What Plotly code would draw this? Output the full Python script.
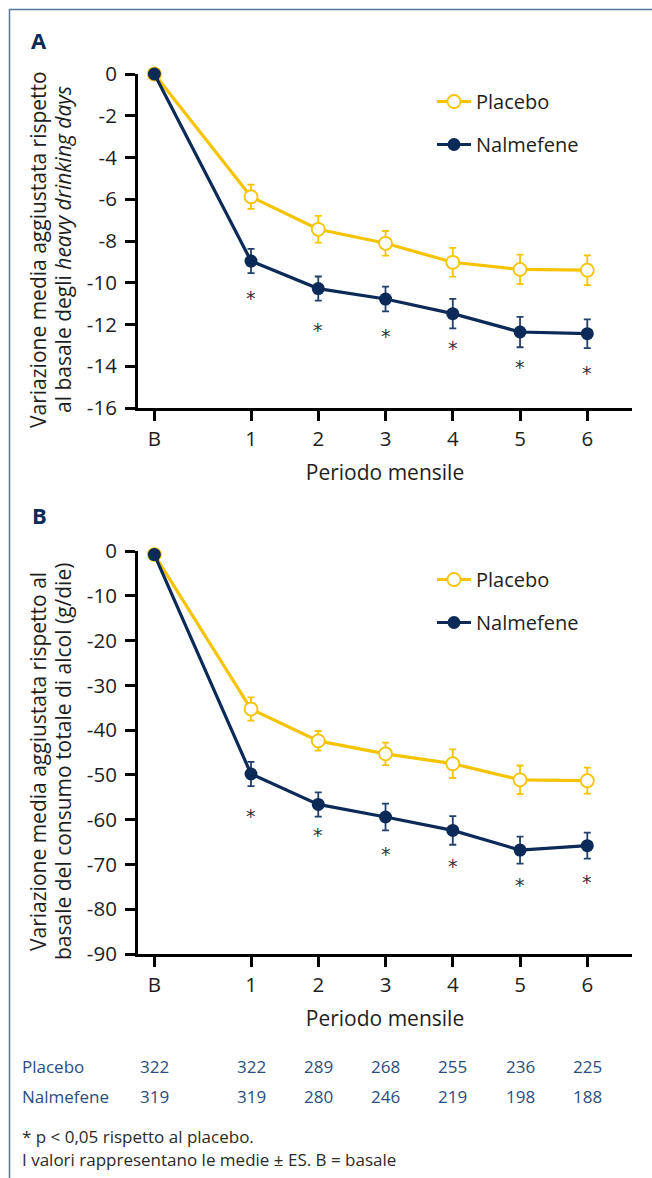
import plotly.graph_objects as go

# ---------------- data ----------------
months = ["B", "1", "2", "3", "4", "5", "6"]

# Panel A: heavy drinking days
hdd_placebo = [0, -5.88, -7.44, -8.11, -9.02, -9.36, -9.40]
hdd_placebo_se = [0, 0.58, 0.64, 0.59, 0.69, 0.71, 0.71]
hdd_nalmefene = [0, -8.96, -10.28, -10.78, -11.48, -12.36, -12.44]
hdd_nalmefene_se = [0, 0.58, 0.58, 0.59, 0.71, 0.73, 0.69]
hdd_star_y = [None, -10.6, -12.1, -12.4, -13.0, -13.9, -14.2]

# Panel B: total alcohol consumption (g/die)
tac_placebo = [-0.8, -35.3, -42.4, -45.3, -47.5, -51.1, -51.3]
tac_placebo_se = [0, 2.6, 2.2, 2.5, 3.2, 3.2, 2.9]
tac_nalmefene = [-0.8, -49.8, -56.6, -59.4, -62.4, -66.8, -65.8]
tac_nalmefene_se = [0, 2.7, 2.7, 3.0, 3.2, 3.0, 2.9]
tac_star_y = [None, -58.4, -62.7, -66.9, -69.7, -74.0, -73.2]

n_placebo = [322, 322, 289, 268, 255, 236, 225]
n_nalmefene = [319, 319, 280, 246, 219, 198, 188]

ytick_a = [0, -2, -4, -6, -8, -10, -12, -14, -16]
ytick_b = [0, -10, -20, -30, -40, -50, -60, -70, -80, -90]

# ---------------- style ----------------
W, H = 652, 1178
YEL = "#F6C300"
NAVY = "#0B2A58"
TXT = "#1e1e1e"
TABLE_BLUE = "#2c4d7f"
BORDER = "#5577a0"
FONT = "Open Sans"
BASE_X = -0.437
xpos = [BASE_X] + list(range(1, len(months)))

def py(px):  # pixel from top -> paper y
    return 1 - px / H

def px_(px):
    return px / W

fig = go.Figure()

def add_panel(xa, ya, leg, pl, pl_se, nm, nm_se):
    fig.add_trace(go.Scatter(
        x=xpos, y=pl, name="Placebo", xaxis=xa, yaxis=ya, legend=leg,
        legendgroup="p" + leg, mode="lines+markers", cliponaxis=False,
        line=dict(color=YEL, width=3.2),
        marker=dict(symbol="circle", size=13, color="white",
                    line=dict(color=YEL, width=1.8)),
        error_y=dict(type="data", array=pl_se, color=YEL, thickness=1.8, width=3.5),
    ))
    fig.add_trace(go.Scatter(
        x=xpos, y=nm, name="Nalmefene", xaxis=xa, yaxis=ya, legend=leg,
        legendgroup="n" + leg, mode="lines+markers", cliponaxis=False,
        line=dict(color=NAVY, width=3.2),
        marker=dict(symbol="circle", size=13, color=NAVY),
        error_y=dict(type="data", array=nm_se, color="#23406b", thickness=1.8, width=3.5),
    ))

add_panel("x", "y", "legend", hdd_placebo, hdd_placebo_se, hdd_nalmefene, hdd_nalmefene_se)
add_panel("x2", "y2", "legend2", tac_placebo, tac_placebo_se, tac_nalmefene, tac_nalmefene_se)

xrange = [1 + (138 - 251) / 67.26, 1 + (632 - 251) / 67.26]
xdom = [px_(138), px_(632)]

axis_common = dict(showgrid=False, zeroline=False, showline=True, linecolor="black",
                   linewidth=3, ticks="outside", ticklen=10, tickwidth=3, tickcolor="black",
                   automargin=False,
                   tickfont=dict(family=FONT, size=20.5, color=TXT))
xtitle = dict(text="Periodo mensile", font=dict(family=FONT, size=21, color=TXT))

fig.update_layout(
    width=W, height=H, margin=dict(l=0, r=0, t=0, b=0, autoexpand=False),
    paper_bgcolor="white", plot_bgcolor="white",
    font=dict(family=FONT, color=TXT),
    xaxis=dict(domain=xdom, range=xrange, anchor="y", tickvals=xpos, ticktext=months,
               title=xtitle, **axis_common),
    yaxis=dict(domain=[py(408), py(74)], range=[-16, 0], anchor="x", ticklabelstandoff=4,
               tickvals=ytick_a, ticktext=[str(v) for v in ytick_a], **axis_common),
    xaxis2=dict(domain=xdom, range=xrange, anchor="y2", tickvals=xpos, ticktext=months,
                title=xtitle, **axis_common),
    yaxis2=dict(domain=[py(954), py(551)], range=[-90, 0], anchor="x2", ticklabelstandoff=4,
                tickvals=ytick_b, ticktext=[str(v) for v in ytick_b], **axis_common),
    legend=dict(x=px_(432), y=py(82), xanchor="left", yanchor="top",
                font=dict(family=FONT, size=20, color=TXT), tracegroupgap=14, itemwidth=34,
                bgcolor="rgba(0,0,0,0)"),
    legend2=dict(x=px_(432), y=py(560), xanchor="left", yanchor="top",
                 font=dict(family=FONT, size=20, color=TXT), tracegroupgap=14, itemwidth=34,
                 bgcolor="rgba(0,0,0,0)"),
    showlegend=True,
)

def note(text, x, y, size, color, xanchor="center", xref="paper", yref="paper", angle=0, yshift=0,
         family=FONT):
    return dict(text=text, x=x, y=y, xref=xref, yref=yref, xanchor=xanchor,
                yanchor="middle", textangle=angle, showarrow=False, yshift=yshift,
                font=dict(family=family, size=size, color=color))

ann = []
ann.append(note("<b>A</b>", px_(39), py(40), 22, NAVY))
ann.append(note("<b>B</b>", px_(39), py(515), 22, NAVY))
# y-axis titles (two lines each)
ann.append(note("Variazione media aggiustata rispetto", px_(38), py(250), 21, TXT, angle=-90))
ann.append(note("al basale degli <i>heavy drinking days</i>", px_(63), py(250), 21, TXT, angle=-90))
ann.append(note("Variazione media aggiustata rispetto al", px_(38), py(762), 21, TXT, angle=-90))
ann.append(note("basale del consumo totale di alcol (g/die)", px_(63), py(762), 21, TXT, angle=-90))
# significance asterisks
for xr, yr, stars in (("x", "y", hdd_star_y), ("x2", "y2", tac_star_y)):
    for xv, s in zip(xpos, stars):
        if s is not None:
            ann.append(note("*", xv, s, 19, "#333333", xref=xr, yref=yr, yshift=-3,
                            family="DejaVu Sans"))
# table of patient numbers
for label, vals, ypix in (("Placebo", n_placebo, 1066), ("Nalmefene", n_nalmefene, 1096)):
    ann.append(note(label, px_(20), py(ypix), 17, TABLE_BLUE, xanchor="left"))
    for xv, v in zip(xpos, vals):
        ann.append(note(str(v), xv, py(ypix), 17, TABLE_BLUE, xref="x2"))
ann.append(note("* p < 0,05 rispetto al placebo.", px_(20), py(1136), 17, "#2a2a2a", xanchor="left"))
ann.append(note("I valori rappresentano le medie ± ES. B = basale", px_(20), py(1159), 17, "#2a2a2a",
                xanchor="left"))
fig.update_layout(annotations=ann)

# frame lines (top and left)
fig.add_shape(type="line", xref="paper", yref="paper", x0=px_(9), x1=1, y0=py(9.5), y1=py(9.5),
              line=dict(color=BORDER, width=1.5))
fig.add_shape(type="line", xref="paper", yref="paper", x0=px_(9.5), x1=px_(9.5), y0=py(9), y1=0,
              line=dict(color=BORDER, width=1.5))

fig.write_html("out.html", post_script="document.body.style.margin='0';",
               config={"displayModeBar": False})
